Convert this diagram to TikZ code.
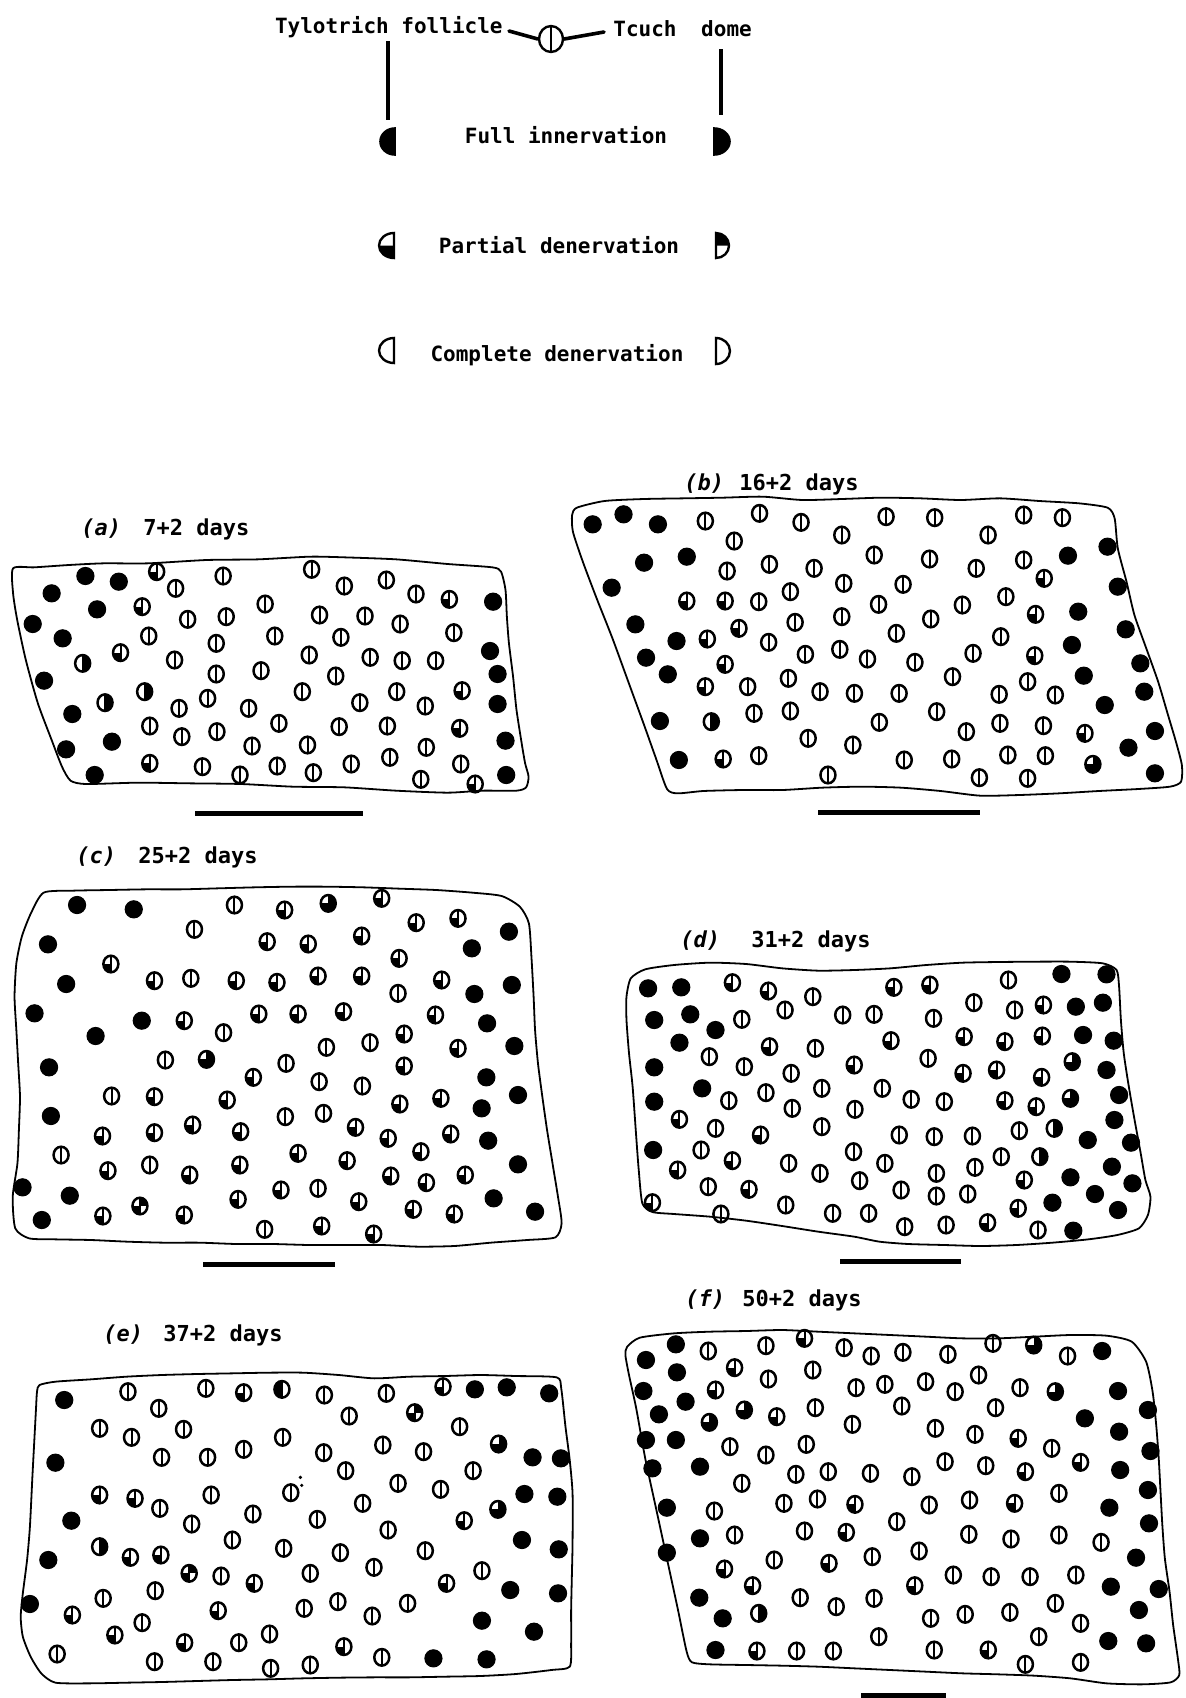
\documentclass[tikz,border=0pt]{standalone}
\usepackage{fontspec}
\usetikzlibrary{shapes.geometric}
\newfontfamily\lblfont{DejaVu Sans Mono}
\newcommand\dotpanel[5]{%
  \foreach \t/\x/\y [count=\i] in {#5} {\node[s\t] (#1\i) at ({#2+\x/#4},{#3+\y/3}) {};}}
\tikzset{
  symbase/.style={ellipse, draw=black, line width=1.25pt, minimum width=7.5pt, minimum height=8.3pt, inner sep=0pt},
  sE/.style={symbase, path picture={\draw[line width=1.0pt] (path picture bounding box.north) -- (path picture bounding box.south);}},
  sF/.style={circle, draw=black, fill=black, line width=0.5pt, minimum size=8.6pt, inner sep=0pt},
  sP/.style={symbase, path picture={\fill (path picture bounding box.south west) rectangle (path picture bounding box.center);
      \draw[line width=1.0pt] (path picture bounding box.north) -- (path picture bounding box.south);}},
  sR/.style={symbase, path picture={\fill (path picture bounding box.south) rectangle (path picture bounding box.north east);
      \draw[line width=1.0pt] (path picture bounding box.north) -- (path picture bounding box.south);}},
  sL/.style={symbase, path picture={\fill (path picture bounding box.south west) rectangle (path picture bounding box.north);
      \draw[line width=1.0pt] (path picture bounding box.north) -- (path picture bounding box.south);}},
  sT/.style={symbase, path picture={\fill (path picture bounding box.south west) rectangle (path picture bounding box.east);
      \fill (path picture bounding box.center) rectangle (path picture bounding box.north east);}},
  sX/.style={symbase, path picture={\fill (path picture bounding box.south west) rectangle (path picture bounding box.center);
      \fill (path picture bounding box.center) rectangle (path picture bounding box.north east);
      \draw[line width=1.0pt] (path picture bounding box.north) -- (path picture bounding box.south);}},
  outline/.style={line width=0.9pt, line join=round},
  scalebar/.style={line width=2.5pt},
  legline/.style={line width=1.8pt, line cap=round},
  legtxt/.style={font=\lblfont\bfseries\fontsize{10.5}{12}\selectfont, inner sep=0pt},
  pantxt/.style={font=\lblfont\bfseries\fontsize{11}{13}\selectfont, inner sep=0pt, anchor=base west},
  pantag/.style={font=\lblfont\bfseries\itshape\fontsize{11}{13}\selectfont, inner sep=0pt, anchor=base west},
}
\begin{document}
\begin{tikzpicture}[x=0.5pt, y=-0.5pt]
\path[use as bounding box, fill=white] (0,0) rectangle (1185,1698);

% ---------------- legend ----------------
\node[legtxt, anchor=base east] (tyl) at (503,33) {Tylotrich follicle};
\node[legtxt, anchor=base west] (tcu) at (613,36) {Tcuch\hspace{6pt} dome};
\node[ellipse, draw, line width=1.2pt, minimum width=12pt, minimum height=13pt, inner sep=0pt,
      path picture={\draw[line width=1.1pt] (path picture bounding box.north) -- (path picture bounding box.south);}] (legc) at (551,39) {};
\coordinate (tl1) at (509,31);
\coordinate (tr1) at (604,32);
\draw[legline] (tl1) -- (legc.west);
\draw[legline] (legc.east) -- (tr1);
\coordinate (vl1) at (388,41); \coordinate (vl2) at (388,120);
\coordinate (vr1) at (721,49); \coordinate (vr2) at (721,115);
\draw[line width=2pt] (vl1) -- (vl2);
\draw[line width=2pt] (vr1) -- (vr2);
\node[legtxt, anchor=base] (fullt) at (566,143) {Full innervation};
\node[legtxt, anchor=base] (partt) at (559,253) {Partial denervation};
\node[legtxt, anchor=base] (compt) at (557,361) {Complete denervation};
% full
\filldraw[line width=0.8pt] (395,155) arc[start angle=90, end angle=270, x radius=15, y radius=13.5] -- cycle;
\filldraw[line width=0.8pt] (714,128) arc[start angle=270, end angle=450, x radius=16, y radius=13.5] -- cycle;
% partial
\fill (394,245.5) -- (394,258) arc[start angle=90, end angle=180, x radius=15, y radius=12.5] -- cycle;
\draw[line width=1.2pt] (394,258) arc[start angle=90, end angle=270, x radius=15, y radius=12.5] -- cycle;
\fill (716,245.5) -- (716,233) arc[start angle=270, end angle=360, x radius=13, y radius=12.5] -- cycle;
\draw[line width=1.2pt] (716,233) arc[start angle=270, end angle=450, x radius=13, y radius=12.5] -- cycle;
% complete
\draw[line width=1.2pt] (394,363) arc[start angle=90, end angle=270, x radius=15, y radius=12.5] -- cycle;
\draw[line width=1.2pt] (716,338) arc[start angle=270, end angle=450, x radius=14, y radius=13] -- cycle;

% ---------------- panel (a) ----------------
\node[pantag] (taga) at (81,535) {(a)};
\node[pantxt] (laba) at (143,535) {7+2 days};
\begin{scope}[shift={(0,510)}, xscale=1/2.904, yscale=1/3]
\draw[outline] plot[smooth cycle, tension=0.4] coordinates {
(38,175) (100,172) (200,165) (300,160) (430,160) (600,150) (750,148) (900,140) (1000,142) (1150,148) (1300,162) (1430,172)
(1455,185) (1468,240) (1472,320) (1478,400) (1490,500) (1500,600) (1515,700) (1525,760) (1535,800) (1528,832) (1500,842)
(1400,842) (1300,848) (1150,842) (1000,832) (850,830) (700,822) (550,820) (400,818) (250,822) (205,812)
(180,770) (150,690) (110,580) (75,450) (50,330) (38,250)};
\end{scope}
\dotpanel{a}{0}{510}{2.904}{F/248/198, F/345/215, P/455/185, E/510/235, E/648/198, E/905/178, E/1000/228, E/1122/210, E/1208/252, P/1305/268, F/1432/275,
F/150/250, F/282/298, P/413/290, E/545/328, E/657/320, E/770/282, E/928/315, E/1060/318, E/1162/342, E/1318/368,
F/95/342, F/182/385, E/432/378, E/628/400, E/798/378, E/990/382, P/350/428, R/240/460, E/507/450, E/898/435, E/1075/442, E/1168/452, E/1265/452, F/1423/423,
F/128/512, E/628/492, E/758/482, E/975/498, F/1445/492,
R/420/545, R/305/578, E/520/595, E/603/565, E/722/595, E/878/545, E/1045/578, E/1152/545, E/1235/588, P/1342/542, F/1445/582,
F/210/612, E/435/648, E/528/680, E/630/665, E/810/640, E/985/650, E/1125/648, P/1335/655,
F/325/695, F/192/718, E/732/708, E/893/705, E/1238/712, F/1468/692,
P/435/760, E/588/770, E/697/795, E/805/768, E/910/788, E/1020/762, E/1132/742, E/1338/762, E/1222/808, P/1380/822, F/1470/795, F/275/795}
\coordinate (ba1) at (195,813); \coordinate (ba2) at (363,813);
\draw[scalebar] (ba1) -- (ba2);

% ---------------- panel (b) ----------------
\node[pantag] (tagb) at (684,490) {(b)};
\node[pantxt] (labb) at (739,490) {16+2 days};
\begin{scope}[shift={(565,465)}, xscale=1/2.529, yscale=1/3]
\draw[outline] plot[smooth cycle, tension=0.4] coordinates {
(30,128) (100,108) (200,102) (300,100) (400,98) (500,95) (600,105) (700,102) (800,98) (900,100) (1000,105) (1100,100) (1200,108) (1300,115) (1372,128)
(1390,160) (1398,250) (1420,350) (1440,450) (1470,550) (1500,650) (1525,750) (1545,830) (1560,900) (1558,950) (1530,965)
(1450,972) (1350,978) (1250,985) (1150,990) (1050,992) (950,978) (850,968) (750,965) (650,968) (550,975) (450,975) (350,978) (285,985) (258,972)
(230,880) (200,780) (160,650) (120,520) (80,400) (45,290) (20,200) (18,150)};
\end{scope}
\dotpanel{b}{565}{465}{2.529}{F/70/178, F/148/148, F/235/178, E/355/168, E/492/145, E/597/172, E/812/155, E/935/158, E/1160/150, E/1258/158,
E/428/228, E/700/210, E/1070/210, F/1372/245,
F/200/293, F/308/275, E/410/318, E/517/298, E/630/310, E/782/270, E/922/282, E/1040/310, E/1160/285, F/1272/272,
F/118/368, E/705/355, E/855/358, P/1212/340, F/1398/365,
P/308/408, P/405/408, E/490/410, E/570/380, E/793/418, E/1005/420, E/1115/395, P/1190/448, F/1298/440,
F/178/478, P/440/490, E/582/472, E/700/455, E/925/462, F/1418/493,
F/282/528, P/360/522, E/515/532, E/838/505, E/1102/515, F/1282/540,
F/205/578, E/608/568, E/695/553, E/765/582, E/885/592, E/1032/565, P/1188/572, F/1455/595,
F/260/628, P/405/598, E/565/640, E/980/635, F/1312/632,
P/355/665, E/462/665, E/645/680, E/732/685, E/845/685, E/1098/688, E/1170/650, E/1240/690, F/1465/680, F/1365/720,
F/240/768, R/370/770, E/478/745, E/570/738, E/795/772, E/940/740, E/1015/800, E/1100/775, E/1210/782, P/1315/805, F/1492/798,
E/615/820, E/728/840, F/1425/848,
F/288/885, P/400/882, E/490/872, E/858/885, E/978/882, E/1120/870, E/1215/872, T/1335/898, F/1492/925,
E/665/930, E/1048/938, E/1170/940}
\coordinate (bb1) at (818,812); \coordinate (bb2) at (980,812);
\draw[scalebar] (bb1) -- (bb2);

% ---------------- panel (c) ----------------
\node[pantag] (tagc) at (76,863) {(c)};
\node[pantxt] (labc) at (138,863) {25+2 days};
\begin{scope}[shift={(0,830)}, xscale=1/2.751, yscale=1/3]
\draw[outline] plot[smooth cycle, tension=0.4] coordinates {
(120,188) (200,182) (300,180) (400,178) (500,178) (600,175) (700,172) (800,170) (900,170) (1000,172) (1100,176) (1200,180) (1300,188) (1380,198)
(1430,230) (1455,280) (1462,380) (1468,500) (1472,600) (1480,700) (1492,800) (1505,900) (1520,1000) (1535,1100) (1545,1180) (1528,1222)
(1450,1230) (1350,1238) (1250,1248) (1150,1250) (1050,1245) (950,1245) (850,1245) (750,1242) (650,1242) (550,1238) (450,1238) (350,1235) (250,1230) (150,1228) (80,1225)
(42,1195) (35,1100) (48,1000) (52,900) (55,800) (50,700) (45,600) (40,500) (45,400) (60,320) (85,250)};
\end{scope}
\dotpanel{c}{0}{830}{2.751}{F/212/225, F/368/238, E/645/225, P/783/240, T/903/220, P/1050/205,
E/535/298, P/1145/278, P/1260/265, F/1400/305,
F/132/343, P/735/335, P/848/342, P/995/318, F/1298/355,
P/305/402, P/1098/385,
F/182/462, P/425/452, E/525/445, P/650/452, P/762/457, P/875/438, P/995/438, P/1215/450, F/1408/465,
E/1095/490, F/1305/492,
F/95/550, F/390/572, P/507/572, P/712/552, P/820/552, P/945/545, P/1198/555, F/1340/580,
F/263/618, E/615/608, P/1112/612, E/1018/638, E/898/652, P/1260/655, F/1415/648,
F/135/712, E/455/690, T/568/688, E/787/700, P/1112/708, P/697/742, E/878/755, E/997/768, F/1338/742,
F/1425/795, E/307/798, P/425/800, P/625/810, P/1100/822, P/1213/805, F/1325/835,
F/140/858, E/785/860, E/890/850,
P/282/918, P/425/908, P/530/885, P/662/905, P/978/892, P/1068/925, P/1240/912, F/1343/932,
E/168/975, P/820/970, P/955/992, P/1158/965,
P/297/1022, E/412/1005, P/522/1035, P/660/1005, P/1075/1038, P/1173/1058, P/1280/1035, F/1425/1003,
F/62/1072, F/192/1097, P/773/1080, E/875/1075, P/655/1108, X/385/1128, P/987/1115, F/1358/1105,
F/115/1170, P/283/1158, P/507/1155, P/1137/1138, P/1250/1152, F/1472/1145,
E/728/1198, P/885/1188, P/1028/1212}
\coordinate (bc1) at (203,1264); \coordinate (bc2) at (335,1264);
\draw[scalebar] (bc1) -- (bc2);

% ---------------- panel (d) ----------------
\node[pantag] (tagd) at (680,947) {(d)};
\node[pantxt] (labd) at (751,947) {31+2 days};
\begin{scope}[shift={(620,920)}, xscale=1/2.775, yscale=1/3]
\draw[outline] plot[smooth cycle, tension=0.4] coordinates {
(30,175) (70,148) (150,135) (250,128) (350,132) (450,145) (550,152) (650,150) (750,145) (850,135) (950,128) (1050,126) (1150,125) (1250,125) (1340,130)
(1378,150) (1385,200) (1390,300) (1398,400) (1412,500) (1428,600) (1445,700) (1458,780) (1472,830) (1465,885) (1440,925)
(1380,945) (1300,958) (1200,968) (1100,975) (1000,978) (900,975) (800,972) (720,965) (650,950) (550,935) (450,918) (350,902) (250,890) (150,882) (90,876)
(62,850) (52,750) (45,650) (35,500) (25,400) (18,300) (18,230)};
\end{scope}
\dotpanel{d}{620}{920}{2.775}{F/78/205, F/170/202, P/312/188, P/412/213, E/535/230, P/760/202, P/860/195, E/1078/180, F/1225/162, F/1350/163,
F/95/300, F/195/283, E/338/298, E/458/270, E/618/285, E/705/283, E/870/295, E/982/248, E/1095/270, P/1175/255, F/1265/260, F/1340/248,
F/265/330, F/165/368, P/415/380, E/542/385, P/752/362, P/955/350, P/1068/365, P/1172/348, F/1285/345, F/1370/362,
E/248/410, F/95/442, E/345/440, E/475/460, P/650/435, E/855/415, P/952/460, P/1045/450, P/1170/472, T/1255/425, F/1350/450,
F/228/505, E/302/542, E/405/518, E/560/505, E/728/505, E/808/538, E/900/545, P/1068/542, P/1155/560, T/1250/535, F/1385/525,
F/95/545, E/478/565, E/652/568,
P/165/598, E/265/625, P/390/645, E/560/620, E/775/645, E/872/650, E/978/648, E/1108/632, R/1205/625, F/1372/600,
F/1298/660, F/1418/668,
F/92/690, E/225/690, P/312/722, E/468/730, E/648/695, E/735/730, E/1058/710, R/1165/710,
P/160/750, E/555/760, E/878/760, E/985/742, F/1365/740,
F/1250/772, E/245/800, P/358/808, E/665/782, P/1122/780, F/1422/790,
P/90/848, E/780/810, E/878/828, E/965/822, F/1318/822, F/1200/848,
E/280/882, E/460/855, E/590/880, E/690/880, P/1105/865, F/1382/870,
E/790/920, E/905/915, P/1020/908, E/1160/930, F/1258/932}
\coordinate (bd1) at (840,1261); \coordinate (bd2) at (961,1261);
\draw[scalebar] (bd1) -- (bd2);

% ---------------- panel (e) ----------------
\node[pantag] (tage) at (103,1341) {(e)};
\node[pantxt] (labe) at (163,1341) {37+2 days};
\begin{scope}[shift={(20,1310)}, xscale=1/2.825, yscale=1/3]
\draw[outline] plot[smooth cycle, tension=0.4] coordinates {
(55,225) (100,215) (200,208) (300,200) (400,195) (500,192) (600,190) (700,188) (800,188) (900,195) (1000,205) (1100,200) (1200,198) (1300,195) (1400,198) (1515,202)
(1528,235) (1540,350) (1552,450) (1560,550) (1560,700) (1558,800) (1556,900) (1556,1000) (1552,1070)
(1500,1080) (1400,1092) (1300,1098) (1200,1100) (1100,1102) (1000,1102) (900,1103) (800,1105) (700,1108) (600,1110) (500,1113) (400,1116) (300,1118) (200,1120) (100,1118)
(60,1090) (30,1040) (8,980) (2,920) (8,850) (20,750) (28,650) (35,500) (40,400) (45,300) (48,245)};
\end{scope}
\dotpanel{e}{20}{1310}{2.825}{F/125/270, E/305/245, E/392/295, E/525/235, P/632/248, L/740/238, E/860/255, E/1035/250, P/1195/230, F/1285/238, F/1375/232, F/1495/250,
E/225/355, E/315/382, E/462/358, E/930/318, X/1115/308, E/1242/350,
F/100/458, E/400/442, E/530/442, E/632/418, E/742/382, E/858/428, E/1025/405, E/1140/425, T/1352/402, F/1448/442, F/1528/445,
E/920/482, E/1280/482,
P/225/555, P/325/565, E/540/555, E/765/548, E/1068/520, E/1188/538, F/1425/552, F/1518/560,
E/395/595, E/968/580, T/1350/598,
F/145/632, E/485/642, E/658/612, E/840/628, P/1255/632,
E/1040/660, E/600/690,
R/225/710, P/312/742, P/398/735, E/745/715, E/905/728, E/1145/722, F/1418/690, F/1522/718,
F/80/750,
X/478/790, E/568/798, P/662/820, E/820/790, E/1000/772, P/1205/820, E/1305/782,
E/235/865, E/382/842, F/1385/840, F/1520/850,
F/28/882, P/148/915, P/560/902, E/803/895, E/898/875, E/1095/880, E/995/918, F/1305/932,
P/268/975, E/345/938, F/1452/965,
E/705/972, E/618/998, P/465/998, P/915/1010,
E/105/1032, E/380/1055, E/545/1055, E/708/1075, E/820/1065, E/1022/1042, F/1168/1045, F/1318/1048}
\coordinate (ec1) at ({20+792/2.825},{1310+502/3});
\coordinate (ec2) at ({20+796/2.825},{1310+526/3});
\fill (ec1) circle[radius=0.9pt];
\fill (ec2) circle[radius=0.9pt];

% ---------------- panel (f) ----------------
\node[pantag] (tagf) at (685,1306) {(f)};
\node[pantxt] (labf) at (742,1306) {50+2 days};
\begin{scope}[shift={(620,1275)}, xscale=1/2.775, yscale=1/3]
\draw[outline] plot[smooth cycle, tension=0.4] coordinates {
(20,215) (55,188) (150,175) (250,170) (350,168) (450,165) (550,170) (650,175) (750,180) (850,185) (950,190) (1050,190) (1150,185) (1250,180) (1350,182)
(1420,200) (1460,260) (1478,350) (1488,450) (1495,550) (1500,650) (1505,750) (1512,850) (1525,950) (1535,1050) (1548,1150) (1552,1200) (1528,1222)
(1450,1228) (1350,1225) (1250,1210) (1150,1202) (1050,1198) (950,1195) (850,1190) (750,1185) (650,1180) (550,1175) (450,1172) (350,1170) (250,1168) (200,1162)
(185,1130) (160,1000) (130,850) (100,700) (70,550) (45,400) (25,300) (15,240)};
\end{scope}
\dotpanel{f}{620}{1275}{2.775}{F/155/208, E/245/228, E/405/212, P/512/190, E/622/218, E/697/243, E/785/232, E/910/238, E/1035/205, T/1148/210, E/1242/243, F/1338/228,
F/72/255, F/158/292, P/318/278, E/412/312, E/535/285,
F/65/348, P/265/345, E/655/338, E/735/328, E/848/320, E/930/350, E/995/300, E/1110/338, T/1208/350, F/1382/348,
F/182/380, F/108/418, T/345/405, P/435/425, E/542/398, E/782/393, E/1042/398, F/1465/405,
T/248/442, E/645/448, E/875/460, F/1290/430,
F/72/495, F/155/495, E/305/515, E/405/540, E/517/508, E/985/478, P/1105/490, E/1198/520, F/1385/470,
F/1472/528, F/90/580, F/222/575, E/488/598, E/578/590, E/695/595, E/810/605, E/902/560, E/1015/572, P/1125/590, P/1278/562, F/1388/585,
E/338/625, F/1465/645,
F/130/698, E/262/708, E/455/685, E/548/672, P/652/688, E/858/690, E/970/675, P/1095/685, E/1218/655, F/1358/698,
E/768/740, F/1468/745,
F/222/790, E/318/780, E/512/768, P/628/772, E/968/778, E/1085/792, E/1218/780, E/1335/802,
F/130/833, E/428/855, P/580/865, E/700/845, E/830/828, F/1432/848,
P/290/882, E/925/900, E/1030/905, E/1138/905, E/1265/900,
P/368/932, P/818/932, F/1362/935, F/1495/942,
F/220/968, E/500/968, E/600/995, E/705/970, E/1208/985,
F/285/1030, R/385/1015, E/862/1030, E/958/1018, E/1082/1012, F/1440/1005, E/1278/1045,
E/1162/1085, E/718/1085, F/1355/1098, F/1460/1105,
F/265/1125, P/380/1128, E/490/1128, E/592/1128, E/872/1125, P/1022/1125,
E/1125/1168, E/1278/1162}
\coordinate (bf1) at (861,1695); \coordinate (bf2) at (946,1695);
\draw[scalebar] (bf1) -- (bf2);
\end{tikzpicture}
\end{document}
